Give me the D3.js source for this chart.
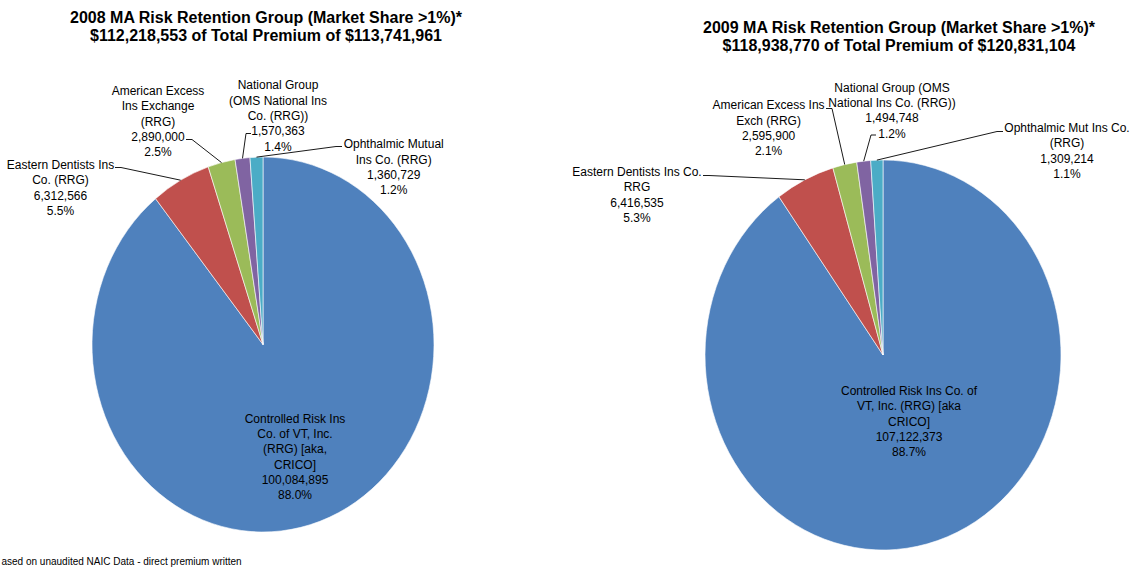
<!DOCTYPE html>
<html>
<head>
<meta charset="utf-8">
<script src="https://cdn.jsdelivr.net/npm/d3@7"></script>
<style>
  html, body { margin: 0; padding: 0; background: #fff; }
  svg { display: block; }
  text { font-family: "Liberation Sans", Arial, sans-serif; fill: #000; }
</style>
</head>
<body>
<svg id="chart" width="1139" height="569"></svg>
<script>
// ---------------- DATA ----------------
const categories2008 = [
  "Controlled Risk Ins Co. of VT, Inc. (RRG) [aka, CRICO]",
  "Eastern Dentists Ins Co. (RRG)",
  "American Excess Ins Exchange (RRG)",
  "National Group (OMS National Ins Co. (RRG))",
  "Ophthalmic Mutual Ins Co. (RRG)"
];
const labelLines2008 = [
  ["Controlled Risk Ins", "Co. of VT, Inc.", "(RRG) [aka,", "CRICO]"],
  ["Eastern Dentists Ins", "Co. (RRG)"],
  ["American Excess", "Ins Exchange", "(RRG)"],
  ["National Group", "(OMS National Ins", "Co. (RRG))"],
  ["Ophthalmic Mutual", "Ins Co. (RRG)"]
];
const values2008 = [100084895, 6312566, 2890000, 1570363, 1360729];
const totalPremium2008 = 113741961;
const title2008 = ["2008 MA Risk Retention Group (Market Share >1%)*",
                   "$112,218,553 of Total Premium of $113,741,961"];

const categories2009 = [
  "Controlled Risk Ins Co. of VT, Inc. (RRG) [aka CRICO]",
  "Eastern Dentists Ins Co. RRG",
  "American Excess Ins Exch (RRG)",
  "National Group (OMS National Ins Co. (RRG))",
  "Ophthalmic Mut Ins Co. (RRG)"
];
const labelLines2009 = [
  ["Controlled Risk Ins Co. of", "VT, Inc. (RRG) [aka", "CRICO]"],
  ["Eastern Dentists Ins Co.", "RRG"],
  ["American Excess Ins", "Exch (RRG)"],
  ["National Group (OMS", "National Ins Co. (RRG))"],
  ["Ophthalmic Mut Ins Co.", "(RRG)"]
];
const values2009 = [107122373, 6416535, 2595900, 1494748, 1309214];
const totalPremium2009 = 120831104;
const title2009 = ["2009 MA Risk Retention Group (Market Share >1%)*",
                   "$118,938,770 of Total Premium of $120,831,104"];

// footnote as visible in the reference (its start is cropped off there)
const footnote = "ased on unaudited NAIC Data - direct premium written";

const sliceColors = ["#4F81BD", "#C0504D", "#9BBB59", "#8064A2", "#4BACC6"];

// ---------------- LAYOUT ----------------
const layouts = [
  {
    cx: 263, cy: 344.5, rx: 171, ry: 187.5,
    titleX: 266, titleY: [22.7, 40.5],
    labels: [
      { x: 295, y: 422.6, leader: null },
      { x: 60.5, y: 169, leader: [[115, 167.5], [121, 167.5]] },
      { x: 158, y: 95, leader: [[186, 139.5], [192, 139.5]] },
      { x: 278, y: 89.3, leader: [[251, 133.5], [246, 133.5]] },
      { x: 393.7, y: 148.3, leader: [[342, 146.5], [336, 146.5]] }
    ]
  },
  {
    cx: 883, cy: 355, rx: 178, ry: 195,
    titleX: 899, titleY: [32.7, 50.5],
    labels: [
      { x: 909, y: 395, leader: null },
      { x: 637, y: 176, leader: [[703, 175.5], [709, 175.5]] },
      { x: 768.6, y: 109.3, leader: [[826, 108.5], [832, 108.5]] },
      { x: 892, y: 91.6, leader: [[876, 135], [871, 135]] },
      { x: 1067, y: 132, leader: [[1003, 131.5], [997, 131.5]] }
    ]
  }
];
const lineH = 15.3;

// ---------------- DRAW ----------------
const svg = d3.select("#chart");
const fmtNum = d3.format(",");
const fmtPct = d3.format(".1%");

const charts = [
  { lines: labelLines2008, values: values2008, total: totalPremium2008, title: title2008 },
  { lines: labelLines2009, values: values2009, total: totalPremium2009, title: title2009 }
];

charts.forEach((c, ci) => {
  const L = layouts[ci];
  const g = svg.append("g");

  // title
  const t = g.append("text")
    .attr("text-anchor", "middle")
    .style("font-weight", "bold")
    .style("font-size", "16px");
  c.title.forEach((s, i) => {
    t.append("tspan").attr("x", L.titleX).attr("y", L.titleY[i]).text(s);
  });

  // pie
  const pie = d3.pie().sort(null).value(d => d)(c.values);
  const arc = d3.arc().innerRadius(0).outerRadius(L.rx);
  const pg = g.append("g")
    .attr("transform", `translate(${L.cx},${L.cy}) scale(1,${L.ry / L.rx})`);
  pg.selectAll("path").data(pie).enter().append("path")
    .attr("d", arc)
    .attr("fill", (d, i) => sliceColors[i])
    .attr("stroke", "#ffffff")
    .attr("stroke-width", 0.6)
    .attr("vector-effect", "non-scaling-stroke");

  // leaders
  pie.forEach((d, i) => {
    const lab = L.labels[i];
    if (!lab.leader) return;
    const a = (d.startAngle + d.endAngle) / 2;
    const end = [L.cx + L.rx * Math.sin(a), L.cy - L.ry * Math.cos(a)];
    const pts = lab.leader.concat([end]);
    g.append("path")
      .attr("d", d3.line()(pts))
      .attr("fill", "none")
      .attr("stroke", "#000")
      .attr("stroke-width", 0.9);
  });

  // labels
  pie.forEach((d, i) => {
    const lab = L.labels[i];
    const lines = c.lines[i].concat([fmtNum(c.values[i]), fmtPct(c.values[i] / c.total)]);
    const tx = g.append("text")
      .attr("text-anchor", "middle")
      .style("font-size", "12px");
    lines.forEach((s, k) => {
      tx.append("tspan").attr("x", lab.x).attr("y", lab.y + k * lineH).text(s);
    });
  });
});

// footnote
svg.append("text")
  .attr("x", 1.5).attr("y", 565)
  .attr("text-anchor", "start")
  .style("font-size", "10px")
  .text(footnote);
</script>
</body>
</html>
